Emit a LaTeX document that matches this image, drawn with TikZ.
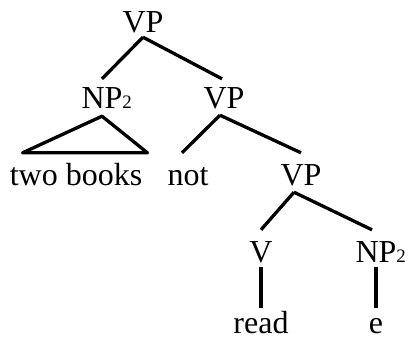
\documentclass[tikz,border=0pt]{standalone}
\usepackage{fontspec}
\setmainfont{Liberation Serif}
\begin{document}
\begin{tikzpicture}[x=1pt,y=-1pt,
  cat/.style={anchor=base,inner sep=0pt,text height=21pt,text depth=0pt,
    font=\fontsize{32}{36}\selectfont},
  branch/.style={line width=3.3pt,line join=round}]

\useasboundingbox (0,0) rectangle (414,341);

% Categories and words
\node[cat] (vpa) at (143,32) {VP};
\node[cat] (npa) at (102,108) {NP\rlap{\fontsize{19}{19}\selectfont 2}};
\node[cat] (vpb) at (224,108) {VP};
\node[cat] (books) at (76,185) {two books};
\node[cat] (notw) at (188,185) {not};
\node[cat] (vpc) at (301,185) {VP};
\node[cat] (vb) at (261,262) {V};
\node[cat] (npb) at (376,262) {NP\rlap{\fontsize{19}{19}\selectfont 2}};
\node[cat] (readw) at (261,333) {read};
\node[cat] (ew) at (376,333) {e};

% Branches
\draw[branch] ([yshift=-5pt]vpa.south) -- ([yshift=8pt]npa.north);
\draw[branch] ([yshift=-5pt]vpa.south) -- ([xshift=-2pt,yshift=8pt]vpb.north);

% Triangle over the phrase
\draw[branch] ([yshift=-8pt]npa.south) -- ([xshift=13pt,yshift=11pt]books.north west)
  -- ([xshift=5pt,yshift=11pt]books.north east) -- cycle;

\draw[branch] ([xshift=-4pt,yshift=-7pt]vpb.south) -- ([xshift=-6pt,yshift=11pt]notw.north);
\draw[branch] ([xshift=-4pt,yshift=-7pt]vpb.south) -- ([yshift=11pt]vpc.north);

\draw[branch] ([xshift=-7pt,yshift=-7pt]vpc.south) -- ([yshift=11pt]vb.north);
\draw[branch] ([xshift=-7pt,yshift=-7pt]vpc.south) -- ([xshift=-4pt,yshift=11pt]npb.north);

\draw[branch] ([yshift=-5pt]vb.south) -- ([yshift=4pt]readw.north);
\draw[branch] ([yshift=-5pt]npb.south) -- ([yshift=4pt]ew.north);

\end{tikzpicture}
\end{document}
